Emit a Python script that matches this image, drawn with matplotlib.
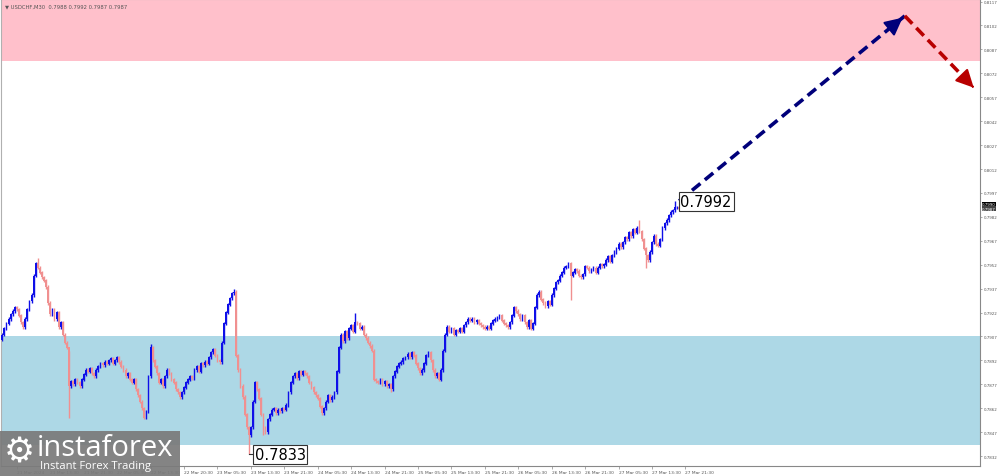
import numpy as np
import matplotlib
matplotlib.use("Agg")
from matplotlib import pyplot as plt
from matplotlib.patches import Rectangle

# USDCHF M30 closes, one row per 8 hours (16 bars)
closes = [
    0.7908, 0.7912, 0.7915, 0.7918, 0.7921, 0.7923, 0.7925, 0.7924, 0.7920, 0.7916, 0.7913, 0.7918, 0.7924, 0.7929, 0.7933, 0.7945,
    0.7953, 0.7950, 0.7947, 0.7944, 0.7942, 0.7938, 0.7928, 0.7921, 0.7924, 0.7918, 0.7922, 0.7913, 0.7916, 0.7908, 0.7903, 0.7900,
    0.7876, 0.7879, 0.7877, 0.7880, 0.7878, 0.7876, 0.7880, 0.7883, 0.7886, 0.7885, 0.7887, 0.7884, 0.7882, 0.7886, 0.7888, 0.7890,
    0.7889, 0.7891, 0.7890, 0.7892, 0.7893, 0.7890, 0.7892, 0.7894, 0.7891, 0.7888, 0.7886, 0.7882, 0.7884, 0.7880, 0.7878, 0.7880,
    0.7874, 0.7870, 0.7866, 0.7862, 0.7856, 0.7860, 0.7882, 0.7900, 0.7892, 0.7888, 0.7884, 0.7878, 0.7880, 0.7876, 0.7882, 0.7886,
    0.7884, 0.7880, 0.7878, 0.7874, 0.7872, 0.7869, 0.7872, 0.7875, 0.7878, 0.7880, 0.7882, 0.7881, 0.7886, 0.7888, 0.7885, 0.7890,
    0.7889, 0.7891, 0.7890, 0.7894, 0.7897, 0.7899, 0.7895, 0.7892, 0.7891, 0.7903, 0.7915, 0.7922, 0.7927, 0.7931, 0.7934, 0.7935,
    0.7895, 0.7886, 0.7876, 0.7869, 0.7858, 0.7850, 0.7845, 0.7850, 0.7866, 0.7878, 0.7874, 0.7868, 0.7858, 0.7850, 0.7847, 0.7855,
    0.7858, 0.7861, 0.7862, 0.7859, 0.7861, 0.7860, 0.7862, 0.7861, 0.7864, 0.7872, 0.7878, 0.7882, 0.7884, 0.7881, 0.7885, 0.7883,
    0.7885, 0.7884, 0.7882, 0.7878, 0.7875, 0.7872, 0.7870, 0.7868, 0.7863, 0.7859, 0.7862, 0.7866, 0.7870, 0.7867, 0.7869, 0.7872,
    0.7885, 0.7900, 0.7908, 0.7904, 0.7910, 0.7906, 0.7912, 0.7914, 0.7910, 0.7916, 0.7915, 0.7912, 0.7913, 0.7908, 0.7906, 0.7903,
    0.7901, 0.7898, 0.7880, 0.7879, 0.7878, 0.7880, 0.7877, 0.7879, 0.7876, 0.7877, 0.7874, 0.7882, 0.7885, 0.7888, 0.7890, 0.7891,
    0.7893, 0.7894, 0.7896, 0.7894, 0.7897, 0.7895, 0.7890, 0.7887, 0.7884, 0.7886, 0.7890, 0.7895, 0.7897, 0.7892, 0.7886, 0.7882,
    0.7884, 0.7880, 0.7886, 0.7898, 0.7908, 0.7913, 0.7910, 0.7912, 0.7908, 0.7911, 0.7910, 0.7912, 0.7910, 0.7914, 0.7916, 0.7918,
    0.7917, 0.7918, 0.7916, 0.7917, 0.7915, 0.7914, 0.7913, 0.7912, 0.7913, 0.7912, 0.7915, 0.7917, 0.7918, 0.7919, 0.7920, 0.7917,
    0.7915, 0.7914, 0.7913, 0.7916, 0.7920, 0.7925, 0.7923, 0.7921, 0.7918, 0.7920, 0.7916, 0.7913, 0.7917, 0.7912, 0.7915, 0.7925,
    0.7933, 0.7935, 0.7930, 0.7928, 0.7926, 0.7929, 0.7927, 0.7933, 0.7937, 0.7941, 0.7942, 0.7945, 0.7947, 0.7950, 0.7951, 0.7953,
    0.7945, 0.7947, 0.7949, 0.7948, 0.7945, 0.7944, 0.7946, 0.7951, 0.7950, 0.7948, 0.7949, 0.7950, 0.7947, 0.7950, 0.7952, 0.7951,
    0.7952, 0.7955, 0.7957, 0.7954, 0.7958, 0.7960, 0.7962, 0.7965, 0.7963, 0.7966, 0.7969, 0.7968, 0.7972, 0.7970, 0.7974, 0.7972,
    0.7975, 0.7973, 0.7968, 0.7962, 0.7958, 0.7955, 0.7960, 0.7966, 0.7970, 0.7965, 0.7964, 0.7968, 0.7975, 0.7978, 0.7980, 0.7983,
    0.7985, 0.7986, 0.7988, 0.7988, 0.7987,
]
first_open = 0.7905

# bars with long wicks: index -> (low, high)
spikes = {
    17: (None, 0.7956), 32: (0.7856, 0.7898), 68: (0.7855, None), 71: (None, 0.7902),
    111: (None, 0.7937), 118: (0.7833, None), 125: (0.7845, None), 169: (None, 0.7922),
    186: (0.7872, None), 272: (0.7930, None), 305: (None, 0.7980), 308: (0.7950, None),
    322: (None, 0.7992),
}

time_labels = ["21 Mar 2024", "21 Mar 13:30", "21 Mar 21:30", "22 Mar 05:30", "22 Mar 13:30",
               "22 Mar 20:30", "23 Mar 05:30", "23 Mar 13:30", "23 Mar 21:30", "24 Mar 05:30",
               "24 Mar 13:30", "24 Mar 21:30", "25 Mar 05:30", "25 Mar 13:30", "25 Mar 21:30",
               "26 Mar 05:30", "26 Mar 13:30", "26 Mar 21:30", "27 Mar 05:30", "27 Mar 13:30",
               "27 Mar 21:30"]

sell_zone = (0.8080, 0.8125)
buy_zone = (0.7839, 0.7907)
# forecast path: bars after the last candle, price
forecast_bars = [0, 108, 141]
forecast_prices = [0.7992, 0.8108, 0.8063]

low_label = 0.7833
high_label = 0.7992
price_tags = [0.7990, 0.7987]

closes = np.array(closes)
opens = np.concatenate([[first_open], closes[:-1]])
idx = np.arange(len(closes))
highs = np.maximum(opens, closes) + 0.0001
lows = np.minimum(opens, closes) - 0.0001
for i, (lo, hi) in spikes.items():
    if lo is not None:
        lows[i] = lo
    if hi is not None:
        highs[i] = hi

BULL = "#0f0fe8"
BEAR = "#f09090"

fig = plt.figure(figsize=(10, 4.77), dpi=100)
ax = fig.add_axes([0.001, 0.021, 0.979, 0.979])

ax.axhspan(*sell_zone, color="#ffc0cb", lw=0, zorder=0)
ax.axhspan(*buy_zone, color="#add8e6", lw=0, zorder=0)

up = closes >= opens
cols = np.where(up, BULL, BEAR)
ax.vlines(idx, lows, highs, colors=cols, lw=1.0, zorder=2)
ax.bar(idx, np.abs(closes - opens) + 0.00002, bottom=np.minimum(opens, closes),
       width=0.85, color=cols, lw=0, zorder=3)

# forecast arrows
last = idx[-1]
fx = [last + b for b in forecast_bars]
seg_cols = ["#00007a", "#b80000"]
for k in range(2):
    ax.plot(fx[k:k + 2], forecast_prices[k:k + 2], ls=(0, (3, 1.6)), lw=2.6,
            color=seg_cols[k], zorder=5, solid_capstyle="butt")
    dx = fx[k + 1] - fx[k]
    dy = forecast_prices[k + 1] - forecast_prices[k]
    ax.annotate("", xy=(fx[k + 1], forecast_prices[k + 1]),
                xytext=(fx[k + 1] - dx * 0.04, forecast_prices[k + 1] - dy * 0.04),
                arrowprops=dict(arrowstyle="-|>,head_length=0.9,head_width=0.45",
                                color=seg_cols[k], lw=1.5, mutation_scale=12), zorder=6)

# extreme labels
box = dict(boxstyle="square,pad=0.12", fc="white", ec="#333333", lw=0.8)
ax.plot([118, 120.5], [low_label, low_label], color="#333333", lw=0.8, zorder=4)
ax.text(120.8, low_label, f"{low_label:.4f}", fontsize=10.5, va="center", ha="left",
        bbox=box, zorder=7)
ax.text(last + 0.6, high_label - 0.00005, f"{high_label:.4f}", fontsize=10.5, va="center",
        ha="left", bbox=box, zorder=7)

ax.set_xlim(-0.6, 468)
ax.set_ylim(0.78258, 0.81186)

yt = np.round(np.arange(0.7832, 0.8118, 0.0015), 4)
ax.yaxis.tick_right()
ax.set_yticks(yt)
ax.set_yticklabels([f"{v:.4f}" for v in yt])
ax.tick_params(axis="y", labelsize=2.9, labelcolor="#555555", length=1.5, width=0.5,
               color="#888888", pad=1)

ax.set_xticks(7 + 16 * np.arange(len(time_labels)))
ax.set_xticklabels(time_labels)
ax.tick_params(axis="x", labelsize=3.2, labelcolor="#555555", length=2, width=0.5,
               color="#888888", pad=1)
for lab in ax.get_xticklabels():
    lab.set_ha("left")

for s in ["top", "left"]:
    ax.spines[s].set_color("#b0b0b0")
    ax.spines[s].set_linewidth(0.8)
for s in ["right", "bottom"]:
    ax.spines[s].set_color("#888888")
    ax.spines[s].set_linewidth(0.8)

# current price tags on the axis
for j, p in enumerate(price_tags):
    ax.text(1.002, p, f"{p:.4f}", transform=ax.get_yaxis_transform(), fontsize=2.9,
            color="white", va="center", ha="left", zorder=8,
            bbox=dict(boxstyle="square,pad=0.1", fc="black" if j == 0 else "#444444", ec="none"),
            clip_on=False)

ax.text(0.004, 0.985, "\u25bc USDCHF,M30  0.7988 0.7992 0.7987 0.7987", transform=ax.transAxes,
        fontsize=3.8, color="#555555", va="center", ha="left")

# watermark logo
fig.patches.append(Rectangle((0, 0), 0.18, 45 / 477, transform=fig.transFigure,
                             fc="#7a7a7a", ec="none", alpha=0.92, zorder=10))
fig.text(0.004, 0.052, "\u2699", fontsize=25, color="white", va="center", ha="left", zorder=11)
fig.text(0.037, 0.06, "instaforex", fontsize=21, color="white", va="center", ha="left",
         family="Open Sans", zorder=11)
fig.text(0.04, 0.022, "Instant Forex Trading", fontsize=8, color="white", va="center", ha="left",
         family="Open Sans", zorder=11)

fig.savefig("out.png", dpi=100)
